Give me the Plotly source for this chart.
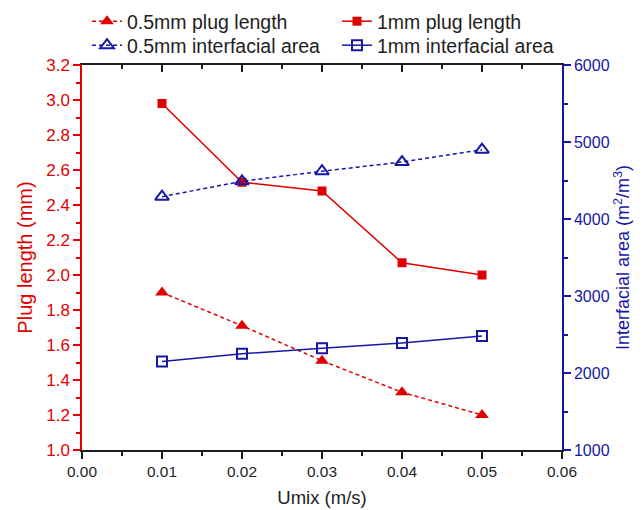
import plotly.graph_objects as go

# Mixture velocity (m/s)
umix = [0.01, 0.02, 0.03, 0.04, 0.05]

# Plug length (mm)
plug_05mm = [1.90, 1.71, 1.51, 1.33, 1.20]
plug_1mm = [2.98, 2.53, 2.48, 2.07, 2.00]

# Interfacial area (m2/m3)
area_05mm = [4290, 4490, 4620, 4740, 4900]
area_1mm = [2150, 2250, 2320, 2390, 2480]

RED = "#e00000"
BLUE = "#1717a6"
INK = "#1e1e1e"
FONT = "Liberation Sans, Arial, sans-serif"

fig = go.Figure()

fig.add_trace(go.Scatter(
    x=umix, y=plug_05mm, name="0.5mm plug length", mode="lines+markers",
    line=dict(color=RED, width=1.5, dash="4px,3px"),
    marker=dict(symbol="triangle-up", size=12, color=RED),
    xaxis="x", yaxis="y", legend="legend"))
fig.add_trace(go.Scatter(
    x=umix, y=plug_1mm, name="1mm plug length", mode="lines+markers",
    line=dict(color=RED, width=1.5),
    marker=dict(symbol="square", size=9, color=RED),
    xaxis="x", yaxis="y", legend="legend2"))
fig.add_trace(go.Scatter(
    x=umix, y=area_05mm, name="0.5mm interfacial area", mode="lines+markers",
    line=dict(color=BLUE, width=1.5, dash="4px,3px"),
    marker=dict(symbol="triangle-up-open", size=12, color=BLUE, line=dict(width=2)),
    xaxis="x", yaxis="y2", legend="legend3"))
fig.add_trace(go.Scatter(
    x=umix, y=area_1mm, name="1mm interfacial area", mode="lines+markers",
    line=dict(color=BLUE, width=1.5),
    marker=dict(symbol="square-open", size=10, color=BLUE, line=dict(width=2)),
    xaxis="x", yaxis="y2", legend="legend4"))

# helper so the top axis (inward ticks) gets drawn
fig.add_trace(go.Scatter(x=[None], y=[None], xaxis="x2", yaxis="y",
                         showlegend=False, hoverinfo="skip"))

# two rows x two columns of legend entries
col_x = [87, 337]
row_y = [2, 26]


def legend_at(col, row):
    return dict(
        x=col_x[col] / 643, y=1 - row_y[row] / 510,
        xref="container", yref="container", xanchor="left", yanchor="top",
        orientation="h", itemwidth=30,
        font=dict(size=19.5, color=INK), bgcolor="rgba(0,0,0,0)",
    )


fig.update_layout(
    width=643, height=510,
    margin=dict(l=82, r=81, t=65, b=60, autoexpand=False),
    plot_bgcolor="white", paper_bgcolor="white",
    font=dict(family=FONT, size=15, color=INK),
    xaxis=dict(
        range=[0, 0.06], dtick=0.01, tickformat=".2f",
        showgrid=False, zeroline=False,
        showline=True, linecolor=INK, linewidth=1.5,
        ticks="outside", ticklen=7, tickwidth=1.5, tickcolor=INK,
        minor=dict(dtick=0.005, ticks="outside", ticklen=4, tickwidth=1.5, tickcolor=INK),
        tickfont=dict(size=15.5, color=INK),
        title=dict(text="Umix (m/s)", font=dict(size=18.5, color=INK), standoff=12),
    ),
    xaxis2=dict(
        range=[0, 0.06], dtick=0.01, overlaying="x", side="top", anchor="y",
        showgrid=False, zeroline=False, showticklabels=False,
        showline=True, linecolor=INK, linewidth=1.5,
        ticks="inside", ticklen=7, tickwidth=1.5, tickcolor=INK,
        minor=dict(dtick=0.005, ticks="inside", ticklen=4, tickwidth=1.5, tickcolor=INK),
    ),
    yaxis=dict(
        range=[1.0, 3.2], dtick=0.2, tickformat=".1f",
        showgrid=False, zeroline=False,
        showline=True, linecolor=RED, linewidth=1.5,
        ticks="outside", ticklen=7, tickwidth=1.5, tickcolor=RED,
        minor=dict(dtick=0.1, ticks="outside", ticklen=4, tickwidth=1.5, tickcolor=RED),
        tickfont=dict(size=17, color=RED),
        title=dict(text="Plug length (mm)", font=dict(size=20, color=RED), standoff=8),
    ),
    yaxis2=dict(
        range=[1000, 6000], dtick=1000, overlaying="y", side="right", anchor="x",
        showgrid=False, zeroline=False,
        showline=True, linecolor=BLUE, linewidth=1.5,
        ticks="outside", ticklen=7, tickwidth=1.5, tickcolor=BLUE,
        minor=dict(dtick=500, ticks="outside", ticklen=4, tickwidth=1.5, tickcolor=BLUE),
        tickfont=dict(size=16, color=BLUE),
        title=dict(text="Interfacial area (m<sup>2</sup>/m<sup>3</sup>)",
                   font=dict(size=18, color=BLUE), standoff=8),
    ),
    legend=legend_at(0, 0),
    legend2=legend_at(1, 0),
    legend3=legend_at(0, 1),
    legend4=legend_at(1, 1),
)

fig.write_html("out.html")
